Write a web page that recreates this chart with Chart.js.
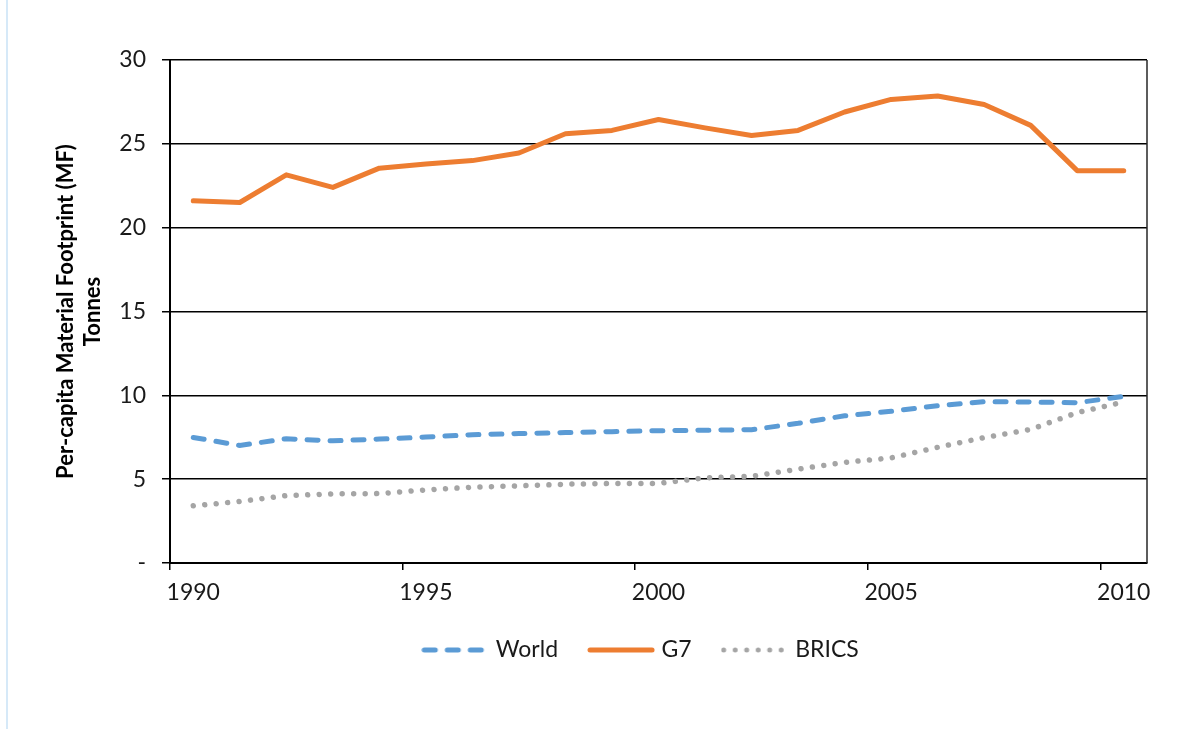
<!DOCTYPE html>
<html>
<head>
<meta charset="utf-8">
<script src="https://cdn.jsdelivr.net/npm/chart.js@4.4.0/dist/chart.umd.min.js"></script>
<style>
    html, body { margin: 0; padding: 0; background: #fff; }
    #wrap { position: relative; width: 1195px; height: 729px; }
    #edge { position: absolute; left: 6px; top: 0; width: 2px; height: 729px; background: #d6e9f8; }
    canvas { position: absolute; left: 0; top: 0; }
</style>
</head>
<body>
<div id="wrap">
    <div id="edge"></div>
    <canvas id="mfChart" width="1195" height="729"></canvas>
</div>
<script>
// Chart data
const years = ['1990', '1991', '1992', '1993', '1994', '1995', '1996', '1997', '1998', '1999', '2000',
               '2001', '2002', '2003', '2004', '2005', '2006', '2007', '2008', '2009', '2010'];
const world = [7.49, 7.01, 7.41, 7.29, 7.39, 7.51, 7.65, 7.72, 7.78, 7.83, 7.89,
               7.92, 7.95, 8.33, 8.78, 9.05, 9.38, 9.62, 9.60, 9.56, 9.94];
const g7 = [21.6, 21.5, 23.15, 22.4, 23.55, 23.8, 24.0, 24.45, 25.6, 25.8, 26.45,
            25.95, 25.5, 25.8, 26.9, 27.65, 27.85, 27.35, 26.1, 23.4, 23.4];
const brics = [3.41, 3.67, 4.02, 4.12, 4.14, 4.36, 4.52, 4.60, 4.70, 4.74, 4.75,
               5.08, 5.17, 5.60, 6.00, 6.27, 6.90, 7.48, 7.97, 8.97, 9.60];
const yTickLabels = ['-', '5', '10', '15', '20', '25', '30'];
const yAxisTitle = ['Per-capita Material Footprint (MF)', 'Tonnes'];

(function() {
    'use strict';

    const FONT = 'Lato';
    const TEXT = '#1a1a1a';
    Chart.defaults.font.family = FONT;

    const WORLD_DASH = [11, 12];
    const BRICS_DASH = [0.001, 11.5];

    // small line sample used as the legend symbol (keeps the dash pattern)
    function legendSample(color, dash) {
        const c = document.createElement('canvas');
        c.width = 68;
        c.height = 10;
        const g = c.getContext('2d');
        g.strokeStyle = color;
        g.lineWidth = 5;
        g.lineCap = 'round';
        g.setLineDash(dash);
        g.beginPath();
        g.moveTo(3, 5);
        g.lineTo(65, 5);
        g.stroke();
        return c;
    }

    // right edge of the plot frame
    const plotFrame = {
        id: 'plotFrame',
        beforeDatasetsDraw(chart) {
            const { ctx, chartArea: a } = chart;
            ctx.save();
            ctx.strokeStyle = '#262626';
            ctx.lineWidth = 1.5;
            ctx.beginPath();
            ctx.moveTo(a.right, a.top);
            ctx.lineTo(a.right, a.bottom);
            ctx.stroke();
            ctx.restore();
        }
    };

    // nudge the legend a bit left, as in the original
    const legendShift = {
        id: 'legendShift',
        afterLayout(chart) {
            chart.legend.left -= 16;
            chart.legend.right -= 16;
        }
    };

    new Chart(document.getElementById('mfChart'), {
        type: 'line',
        data: {
            labels: years,
            datasets: [{
                label: 'World',
                data: world,
                borderColor: '#5B9BD5',
                backgroundColor: '#5B9BD5',
                borderWidth: 5,
                borderDash: WORLD_DASH,
                borderCapStyle: 'round',
                pointRadius: 0,
                pointStyle: legendSample('#5B9BD5', WORLD_DASH),
                tension: 0,
                order: 3
            }, {
                label: 'G7',
                data: g7,
                borderColor: '#ED7D31',
                backgroundColor: '#ED7D31',
                borderWidth: 5,
                borderCapStyle: 'round',
                borderJoinStyle: 'round',
                pointRadius: 0,
                pointStyle: legendSample('#ED7D31', []),
                tension: 0,
                order: 2
            }, {
                label: 'BRICS',
                data: brics,
                borderColor: '#A5A5A5',
                backgroundColor: '#A5A5A5',
                borderWidth: 5.5,
                borderDash: BRICS_DASH,
                borderCapStyle: 'round',
                pointRadius: 0,
                pointStyle: legendSample('#A5A5A5', BRICS_DASH),
                tension: 0,
                order: 1
            }]
        },
        options: {
            responsive: false,
            animation: false,
            events: [],
            layout: {
                padding: { top: 60, right: 48, bottom: 57.5, left: 40 }
            },
            plugins: {
                tooltip: { enabled: false },
                legend: {
                    position: 'bottom',
                    fullSize: false,
                    labels: {
                        usePointStyle: true,
                        pointStyleWidth: 58,
                        padding: 34,
                        color: TEXT,
                        font: { size: 23 },
                        sort: function(a, b) {
                            return a.datasetIndex - b.datasetIndex;
                        }
                    }
                }
            },
            scales: {
                x: {
                    offset: true,
                    grid: {
                        offset: true,
                        drawOnChartArea: false,
                        drawTicks: true,
                        tickLength: 7,
                        lineWidth: 1.5,
                        color: function(c) {
                            return c.index % 5 === 0 ? '#000' : 'rgba(0,0,0,0)';
                        }
                    },
                    border: { display: true, color: '#000', width: 2 },
                    ticks: {
                        autoSkip: false,
                        maxRotation: 0,
                        padding: 9,
                        color: TEXT,
                        font: { size: 23 },
                        callback: function(value, index) {
                            return index % 5 === 0 ? years[index] : '';
                        }
                    },
                    afterFit: function(scale) {
                        scale.height = 41.5;
                    }
                },
                y: {
                    min: 0,
                    max: 30,
                    grid: {
                        color: '#000',
                        lineWidth: 1.5,
                        drawTicks: true,
                        tickLength: 8
                    },
                    border: { display: true, color: '#000', width: 2 },
                    ticks: {
                        stepSize: 5,
                        padding: 16,
                        color: TEXT,
                        font: { size: 23 },
                        callback: function(value, index) {
                            return yTickLabels[index];
                        }
                    },
                    title: {
                        display: true,
                        text: yAxisTitle,
                        color: '#000',
                        padding: { top: 12, bottom: 0 },
                        font: { size: 22, weight: 'bold', lineHeight: '27px' }
                    },
                    afterFit: function(scale) {
                        scale.width = 130;
                    }
                }
            }
        },
        plugins: [plotFrame, legendShift]
    });
})();
</script>
</body>
</html>
